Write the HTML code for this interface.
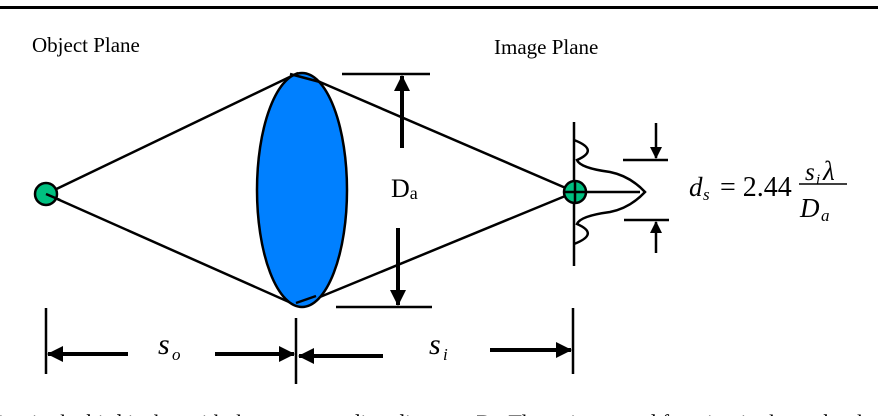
<!DOCTYPE html>
<html><head><meta charset="utf-8"><style>
html,body{margin:0;padding:0;background:#fff;width:878px;height:416px;overflow:hidden}
svg{display:block}
text{font-family:"Liberation Serif",serif;fill:#000}
</style></head><body>
<svg width="878" height="416" viewBox="0 0 878 416" xmlns="http://www.w3.org/2000/svg">
<defs>
<marker id="ah" markerWidth="12" markerHeight="12" refX="11" refY="6" orient="auto" markerUnits="userSpaceOnUse">
<path d="M0,0 L12,6 L0,12 Z" fill="#000"/></marker>
<marker id="ah2" markerWidth="16" markerHeight="16" refX="15" refY="8" orient="auto" markerUnits="userSpaceOnUse">
<path d="M0,0 L16,8 L0,16 Z" fill="#000"/></marker>
</defs>
<rect x="0" y="6" width="878" height="3" fill="#000"/>
<text x="32" y="52" font-size="21">Object Plane</text>
<text x="494" y="54" font-size="21">Image Plane</text>
<g stroke="#000" stroke-width="2.5" fill="none">
<line x1="46" y1="194" x2="298" y2="73"/>
<line x1="46" y1="194" x2="298" y2="306"/>
<line x1="306" y1="76" x2="575" y2="192"/>
<line x1="298" y1="306" x2="575" y2="192"/>
</g>
<ellipse cx="302" cy="190" rx="45" ry="117" fill="#0080FF" stroke="#000" stroke-width="2.5"/>
<g stroke="#000" stroke-width="2.5" fill="none">
<line x1="290" y1="74" x2="320" y2="82"/>
<line x1="296" y1="303" x2="316" y2="296"/>
</g>
<circle cx="46" cy="194" r="11" fill="#00C080" stroke="#000" stroke-width="2.5"/>
<line x1="46" y1="194" x2="60" y2="200" stroke="#000" stroke-width="2.5"/>
<g stroke="#000" stroke-width="2.5">
<line x1="342" y1="74" x2="430" y2="74"/>
<line x1="336" y1="307" x2="432" y2="307"/>
</g>
<g stroke="#000" stroke-width="4" fill="none">
<line x1="402" y1="148" x2="402" y2="76" marker-end="url(#ah2)"/>
<line x1="398" y1="228" x2="398" y2="305" marker-end="url(#ah2)"/>
</g>
<text x="391" y="197" font-size="26">D<tspan font-size="18" dy="2">a</tspan></text>
<line x1="574" y1="122" x2="574" y2="266" stroke="#000" stroke-width="2.5"/>
<path d="M574,140 Q600,150 577,160 Q580,168 610,172 Q630,176 645,192 Q630,208 610,212 Q580,216 577,224 Q600,234 574,244" fill="none" stroke="#000" stroke-width="2.5"/>
<circle cx="575" cy="192" r="11" fill="#00C080" stroke="#000" stroke-width="2.5"/>
<line x1="564" y1="192" x2="640" y2="192" stroke="#000" stroke-width="2.5"/>
<line x1="575" y1="181" x2="575" y2="203" stroke="#000" stroke-width="2.5"/>
<g stroke="#000" stroke-width="2.5">
<line x1="623" y1="160" x2="668" y2="160"/>
<line x1="624" y1="220" x2="669" y2="220"/>
<line x1="656" y1="123" x2="656" y2="158" marker-end="url(#ah)"/>
<line x1="656" y1="253" x2="656" y2="222" marker-end="url(#ah)"/>
</g>
<text x="689" y="196" font-size="27" font-style="italic">d</text>
<text x="703" y="200" font-size="17" font-style="italic">s</text>
<text x="720" y="196" font-size="28">= 2.44</text>
<text x="805" y="180" font-size="25" font-style="italic">s</text>
<text x="816" y="184" font-size="15" font-style="italic">i</text>
<text x="823" y="180" font-size="27" font-style="italic">λ</text>
<line x1="799" y1="184" x2="847" y2="184" stroke="#000" stroke-width="1.5"/>
<text x="800" y="217" font-size="27" font-style="italic">D</text>
<text x="821" y="221" font-size="17" font-style="italic">a</text>
<g stroke="#000" stroke-width="2.5">
<line x1="46" y1="308" x2="46" y2="374"/>
<line x1="296" y1="318" x2="296" y2="384"/>
<line x1="573" y1="308" x2="573" y2="374"/>
</g>
<g stroke="#000" stroke-width="4">
<line x1="128" y1="354" x2="48" y2="354" marker-end="url(#ah2)"/>
<line x1="215" y1="354" x2="294" y2="354" marker-end="url(#ah2)"/>
<line x1="383" y1="356" x2="299" y2="356" marker-end="url(#ah2)"/>
<line x1="490" y1="350" x2="571" y2="350" marker-end="url(#ah2)"/>
</g>
<text x="158" y="354" font-size="30" font-style="italic">s</text>
<text x="172" y="360" font-size="17" font-style="italic">o</text>
<text x="429" y="354" font-size="30" font-style="italic">s</text>
<text x="443" y="360" font-size="17" font-style="italic">i</text>
<text x="-2" y="430" font-size="22">ing in the bird is the, with the corresponding diameter D . The point spread function is shown by the the</text>
</svg>
</body></html>
